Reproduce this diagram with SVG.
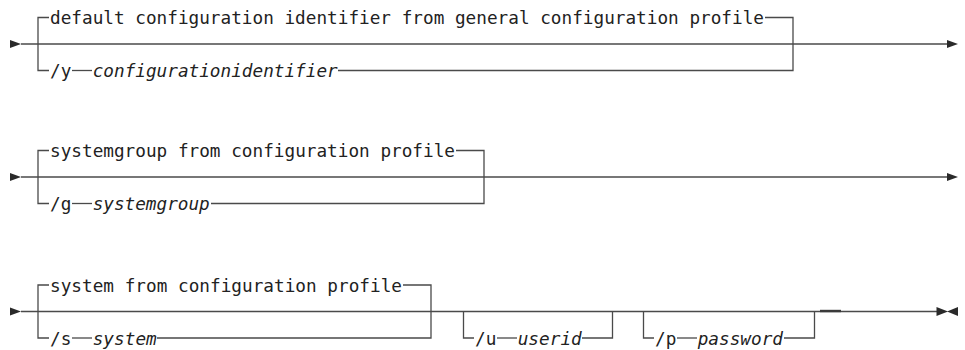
<svg xmlns="http://www.w3.org/2000/svg" width="965" height="350" viewBox="0 0 965 350">
<style>
.ln{stroke:#4a4a4a;stroke-width:1.3;fill:none}
.th{stroke:#3a3a3a;stroke-width:2.4;fill:none}
.ar{fill:#2a2a2a;stroke:none}
.t{font-family:"DejaVu Sans Mono","Liberation Mono",monospace;font-size:17.7px;fill:#222}
.i{font-style:italic}
</style>
<rect width="965" height="350" fill="#fff"/>
<g id="connectors">
<!-- row 1 -->
<path class="ar" d="M10,40 L21,44 L10,48 Z"/>
<line class="ln" x1="21" y1="44" x2="948" y2="44"/>
<path class="ar" d="M947,40 L958,44 L947,48 Z"/>
<path class="ln" d="M49,17.5 H38 V70.5 H49"/>
<path class="ln" d="M765,17.5 H793 V70.5 H338"/>
<line class="ln" x1="72" y1="70.5" x2="92" y2="70.5"/>
<!-- row 2 -->
<path class="ar" d="M10,173 L21,177 L10,181 Z"/>
<line class="ln" x1="21" y1="177" x2="948" y2="177"/>
<path class="ar" d="M947,173 L958,177 L947,181 Z"/>
<path class="ln" d="M49,150.5 H38 V203.5 H49"/>
<path class="ln" d="M456,150.5 H484 V203.5 H211"/>
<line class="ln" x1="72" y1="203.5" x2="92" y2="203.5"/>
<!-- row 3 -->
<path class="ar" d="M10,307.5 L21,311.5 L10,315.5 Z"/>
<line class="ln" x1="21" y1="311.5" x2="937" y2="311.5"/>
<path class="ar" d="M936.5,307 L948,311.5 L936.5,316 Z"/>
<path class="ar" d="M958,307 L947,311.5 L958,316 Z"/>
<path class="ln" d="M49,285 H38 V338 H49"/>
<path class="ln" d="M403,285 H431 V338 H157"/>
<line class="ln" x1="72" y1="338" x2="92" y2="338"/>
<path class="ln" d="M463.5,311.5 V338 H474"/>
<line class="ln" x1="497" y1="338" x2="517" y2="338"/>
<path class="ln" d="M582,338 H612.5 V311.5"/>
<path class="ln" d="M643.5,311.5 V338 H654"/>
<line class="ln" x1="677" y1="338" x2="697" y2="338"/>
<path class="ln" d="M784,338 H814.5 V311.5"/>
<line class="th" x1="820" y1="311" x2="841" y2="311"/>
</g>
<g id="default-configid">
<text class="t" x="50" y="24" textLength="714" lengthAdjust="spacing">default configuration identifier from general configuration profile</text>
</g>
<g id="opt-y">
<text class="t" x="50" y="77">/y</text>
<text class="t i" x="92.7" y="77" textLength="245" lengthAdjust="spacing">configurationidentifier</text>
</g>
<g id="default-systemgroup">
<text class="t" x="50" y="157" textLength="405" lengthAdjust="spacing">systemgroup from configuration profile</text>
</g>
<g id="opt-g">
<text class="t" x="50" y="210">/g</text>
<text class="t i" x="92.7" y="210" textLength="117" lengthAdjust="spacing">systemgroup</text>
</g>
<g id="default-system">
<text class="t" x="50" y="291.5" textLength="352" lengthAdjust="spacing">system from configuration profile</text>
</g>
<g id="opt-s">
<text class="t" x="50" y="344.5">/s</text>
<text class="t i" x="92.7" y="344.5" textLength="64" lengthAdjust="spacing">system</text>
</g>
<g id="opt-u">
<text class="t" x="475" y="344.5">/u</text>
<text class="t i" x="517.7" y="344.5" textLength="64" lengthAdjust="spacing">userid</text>
</g>
<g id="opt-p">
<text class="t" x="655" y="344.5">/p</text>
<text class="t i" x="697.7" y="344.5" textLength="85.3" lengthAdjust="spacing">password</text>
</g>
</svg>
